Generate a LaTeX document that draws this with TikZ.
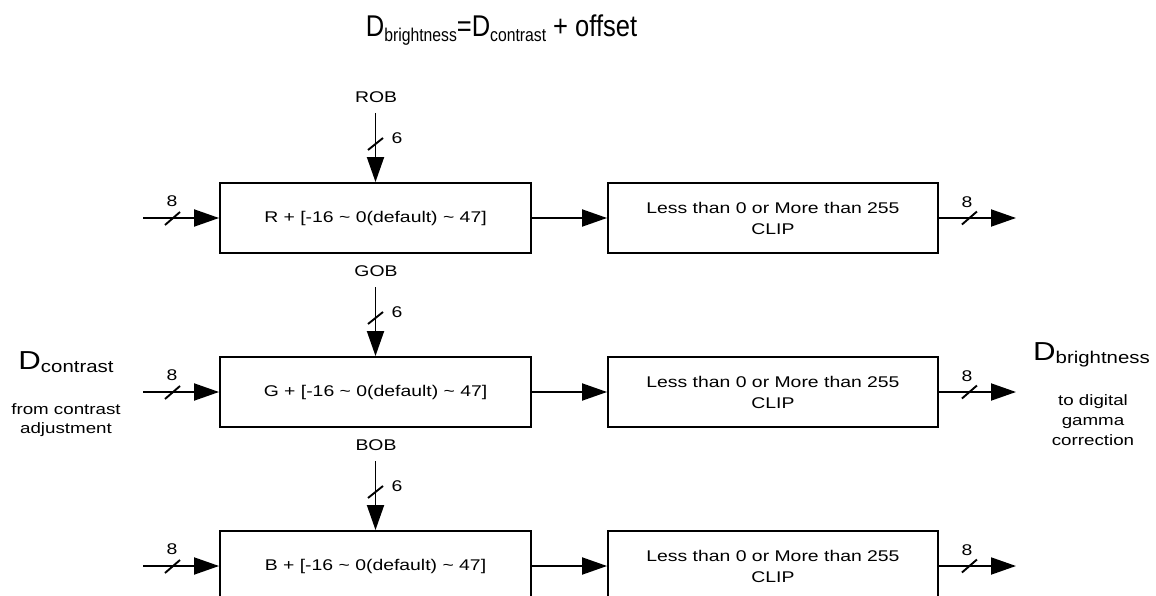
\documentclass[tikz,border=0pt]{standalone}
\usepackage{fontspec}
\setmainfont{Liberation Sans}
\newfontfamily\smfont{Liberation Sans}[FakeStretch=1.25]
\newfontfamily\bigfont{Liberation Sans}[FakeStretch=1.2]
\newfontfamily\ttlfont{Liberation Sans}[FakeStretch=0.85]
\usetikzlibrary{arrows.meta}
\tikzset{
  lw/.style={line width=1.9pt},
  conn/.style={lw, -{Triangle[length=25pt,width=17pt]}},
  smalltext/.style={font=\smfont\fontsize{15.5}{20}\selectfont, inner sep=0pt, align=center},
  addbox/.style={draw, line width=1.9pt, minimum width=311pt, minimum height=70pt, inner sep=0pt,
    font=\smfont\fontsize{15.5}{21}\selectfont, align=center},
  clipbox/.style={addbox, minimum width=330pt},
  biglabel/.style={font=\bigfont\fontsize{26}{30}\selectfont, inner sep=0pt, anchor=base},
}
\begin{document}
\begin{tikzpicture}[x=1pt,y=-1pt]
\useasboundingbox (0,0) rectangle (1156,596);
\node[font=\ttlfont\fontsize{30}{32}\selectfont, inner sep=0pt, anchor=base] (title) at (501.5,37)
  {D\raisebox{-5pt}{\fontsize{18.5}{19}\selectfont brightness}=D\raisebox{-5pt}{\fontsize{18.5}{19}\selectfont contrast} + offset};
\foreach \r/\y/\ob in {R/218/ROB, G/392/GOB, B/566/BOB} {
  \node[addbox] (add\r) at (375.5,\y) {\r{} + [-16 \textasciitilde{} 0(default) \textasciitilde{} 47]};
  \node[clipbox] (clip\r) at (773,\y) {Less than 0 or More than 255\\CLIP};
  \coordinate (in\r) at (143,\y);
  \coordinate (out\r) at (1016,\y);
  \coordinate (obs\r) at (375.5,\y-105);
  \node[smalltext] (ob\r) at (376,\y-121) {\ob};
  \draw[conn] (obs\r) -- (add\r.north);
  \draw[lw] ([shift={(-7.5,37)}]obs\r) -- ++(15,-12);
  \node[smalltext] (six\r) at (397,\y-80) {6};
  \draw[conn] (in\r) -- (add\r.west);
  \draw[lw] ([shift={(22,7)}]in\r) -- ++(15,-13);
  \node[smalltext] (eighti\r) at (172,\y-17) {8};
  \draw[conn] (add\r.east) -- (clip\r.west);
  \draw[conn] (clip\r.east) -- (out\r);
  \draw[lw] ([shift={(23,6.5)}]clip\r.east) -- ++(15,-13);
  \node[smalltext] (eighto\r) at (967,\y-16) {8};
}
\node[biglabel] (dcon) at (66,369) {D\raisebox{-3pt}{\fontsize{17}{17}\selectfont contrast}};
\node[smalltext, font=\smfont\fontsize{15}{19.5}\selectfont] (from) at (66,420) {from contrast\\adjustment};
\node[biglabel] (dbr) at (1091.5,360) {D\raisebox{-3pt}{\fontsize{17}{17}\selectfont brightness}};
\node[smalltext, font=\smfont\fontsize{15}{20}\selectfont] (to) at (1093,420) {to digital\\gamma\\correction};
\end{tikzpicture}
\end{document}
